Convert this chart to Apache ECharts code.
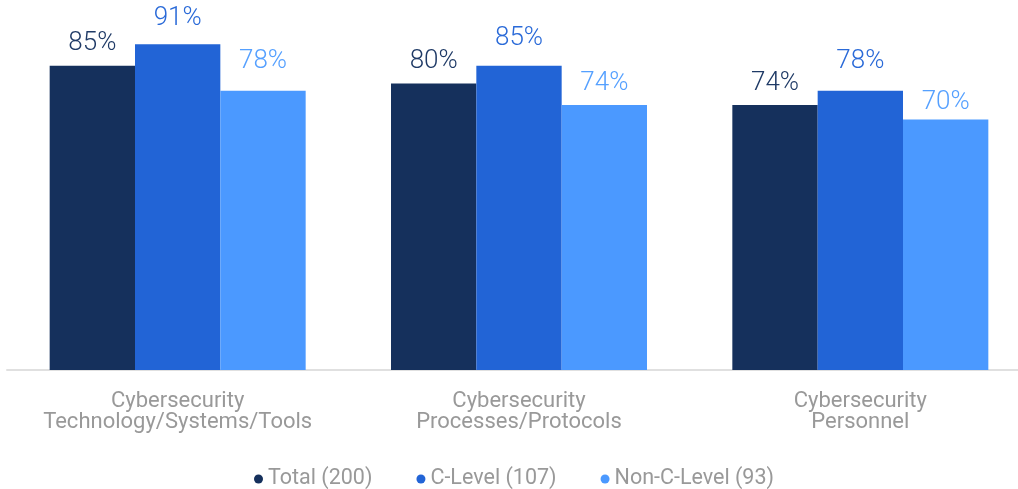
<!DOCTYPE html>
<html>
<head>
<meta charset="utf-8">
<script src="https://cdn.jsdelivr.net/npm/echarts@6/dist/echarts.min.js"></script>
<style>
  html, body { margin: 0; padding: 0; background: #ffffff; }
  #chart { width: 1018px; height: 489px; }
</style>
</head>
<body>
<div id="chart"></div>
<script>
// Categories and survey shares (%)
const categories = [
  'Cybersecurity\nTechnology/Systems/Tools',
  'Cybersecurity\nProcesses/Protocols',
  'Cybersecurity\nPersonnel'
];
const seriesNames = ['Total (200)', 'C-Level (107)', 'Non-C-Level (93)'];
const totalValues = [85, 80, 74];
const cLevelValues = [91, 85, 78];
const nonCLevelValues = [78, 74, 70];

// Styling
const barColors = ['#15305c', '#2264d6', '#4b99ff'];
const labelColors = ['#1f3a66', '#2a6ad8', '#55a0ff'];
// gap (px) between each value label and its bar top
const labelGaps = [
  [9, 9, 9],
  [13, 14, 16],
  [16, 9, 4]
];

const chart = echarts.init(document.getElementById('chart'), null, { renderer: 'canvas' });

function makeSeries(name, values, i) {
  return {
    name: name,
    type: 'bar',
    data: values.map((v, j) => ({ value: v, label: { distance: labelGaps[i][j] } })),
    barWidth: '25%',
    barGap: '0%',
    itemStyle: { color: barColors[i] },
    label: {
      show: true,
      position: 'top',
      formatter: '{c}%',
      fontFamily: 'Roboto',
      fontWeight: 300,
      fontSize: 26,
      color: labelColors[i]
    }
  };
}

chart.setOption({
  animation: false,
  textStyle: { fontFamily: 'Roboto' },
  legend: {
    top: 463,
    left: 249,
    itemGap: 44,
    itemWidth: 9,
    itemHeight: 9,
    icon: 'circle',
    textStyle: { color: '#999999', fontSize: 21.5, fontFamily: 'Roboto' },
    data: seriesNames
  },
  // plot area runs slightly past the right edge of the canvas
  grid: {
    left: 7, width: 1024, top: 12, bottom: 119,
    containLabel: false,
    outerBoundsMode: 'none'
  },
  xAxis: {
    type: 'category',
    data: categories,
    axisTick: { show: false },
    axisLine: { lineStyle: { color: '#e0e0e0', width: 2 } },
    axisLabel: {
      interval: 0,
      hideOverlap: false,
      color: '#999999',
      fontSize: 22,
      lineHeight: 21,
      margin: 21,
      fontFamily: 'Roboto'
    }
  },
  yAxis: {
    type: 'value',
    min: 0,
    max: 100,
    show: false,
    splitLine: { show: false }
  },
  series: [
    makeSeries(seriesNames[0], totalValues, 0),
    makeSeries(seriesNames[1], cLevelValues, 1),
    makeSeries(seriesNames[2], nonCLevelValues, 2)
  ]
});
</script>
</body>
</html>
